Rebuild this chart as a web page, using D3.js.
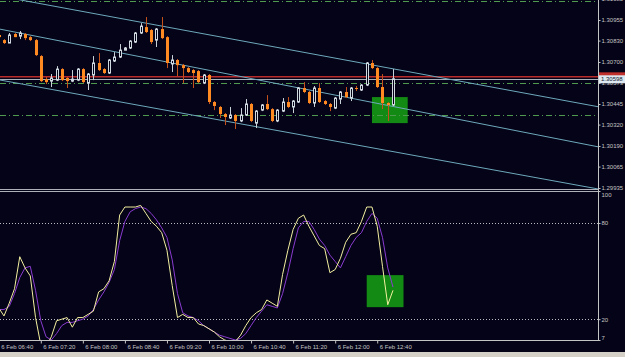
<!DOCTYPE html>
<html>
<head>
<meta charset="utf-8">
<script src="https://cdn.jsdelivr.net/npm/d3@7"></script>
<style>
body { margin: 0; background: #040318; }
text { font-family: "Liberation Sans", Arial, sans-serif; }
</style>
</head>
<body>
<div id="chart"></div>
<script>
var width = 625
var height = 357
var plotRight = 598
var mainBottom = 189
var oscTop = 191.5
var oscBottom = 340

// Bars (M5, 6 Feb)

var day = "2013-02-06 "
var times = ["06:40","06:45","06:50","06:55","07:00","07:05","07:10","07:15","07:20","07:25",
    "07:30","07:35","07:40","07:45","07:50","07:55","08:00","08:05","08:10","08:15",
    "08:20","08:25","08:30","08:35","08:40","08:45","08:50","08:55","09:00","09:05",
    "09:10","09:15","09:20","09:25","09:30","09:35","09:40","09:45","09:50","09:55",
    "10:00","10:05","10:10","10:15","10:20","10:25","10:30","10:35","10:40","10:45",
    "10:50","10:55","11:00","11:05","11:10","11:15","11:20","11:25","11:30","11:35",
    "11:40","11:45","11:50","11:55","12:00","12:05","12:10","12:15","12:20","12:25",
    "12:30","12:35","12:40","12:45","12:50","12:55"]

var open = [1.30864,1.30833,1.30815,1.30870,1.30857,1.30870,1.30851,1.30833,1.30736,1.30596,
    1.30584,1.30590,1.30657,1.30603,1.30584,1.30590,1.30657,1.30572,1.30621,1.30694,
    1.30657,1.30633,1.30706,1.30730,1.30772,1.30785,1.30821,1.30876,1.30912,1.30894,
    1.30833,1.30900,1.30851,1.30688,1.30712,1.30681,1.30663,1.30651,1.30645,1.30572,
    1.30621,1.30457,1.30427,1.30384,1.30360,1.30378,1.30342,1.30378,1.30445,1.30329,
    1.30408,1.30445,1.30414,1.30342,1.30402,1.30457,1.30427,1.30457,1.30542,1.30518,
    1.30451,1.30542,1.30463,1.30445,1.30420,1.30475,1.30518,1.30481,1.30542,1.30530,
    1.30560,1.30694,1.30663,1.30548,1.30451,1.30439]

var high = [1.30870,1.30839,1.30876,1.30876,1.30888,1.30876,1.30857,1.30839,1.30742,1.30609,
    1.30627,1.30675,1.30663,1.30609,1.30651,1.30663,1.30663,1.30633,1.30736,1.30754,
    1.30663,1.30718,1.30760,1.30809,1.30791,1.30833,1.30882,1.30936,1.30973,1.30900,
    1.30906,1.30973,1.30857,1.30742,1.30718,1.30688,1.30669,1.30657,1.30651,1.30627,
    1.30627,1.30463,1.30433,1.30390,1.30427,1.30384,1.30420,1.30475,1.30451,1.30408,
    1.30445,1.30499,1.30420,1.30414,1.30481,1.30487,1.30469,1.30548,1.30578,1.30524,
    1.30554,1.30572,1.30469,1.30451,1.30487,1.30524,1.30548,1.30548,1.30554,1.30566,
    1.30700,1.30712,1.30669,1.30627,1.30457,1.30657]

var low = [1.30845,1.30809,1.30815,1.30851,1.30839,1.30833,1.30827,1.30736,1.30578,1.30566,
    1.30548,1.30584,1.30584,1.30542,1.30578,1.30584,1.30572,1.30530,1.30590,1.30645,
    1.30627,1.30627,1.30700,1.30724,1.30772,1.30779,1.30815,1.30870,1.30876,1.30809,
    1.30791,1.30839,1.30663,1.30639,1.30615,1.30572,1.30633,1.30542,1.30572,1.30566,
    1.30445,1.30408,1.30360,1.30317,1.30354,1.30293,1.30335,1.30372,1.30335,1.30299,
    1.30402,1.30408,1.30335,1.30335,1.30396,1.30420,1.30390,1.30451,1.30511,1.30445,
    1.30427,1.30451,1.30439,1.30402,1.30414,1.30445,1.30481,1.30463,1.30524,1.30524,
    1.30554,1.30657,1.30542,1.30414,1.30342,1.30433]

var close = [1.30851,1.30815,1.30864,1.30851,1.30876,1.30845,1.30833,1.30742,1.30584,1.30578,
    1.30603,1.30657,1.30590,1.30584,1.30596,1.30657,1.30578,1.30627,1.30694,1.30651,
    1.30633,1.30712,1.30730,1.30772,1.30785,1.30827,1.30876,1.30918,1.30882,1.30821,
    1.30900,1.30845,1.30694,1.30712,1.30681,1.30663,1.30639,1.30633,1.30578,1.30621,
    1.30457,1.30433,1.30384,1.30366,1.30378,1.30342,1.30378,1.30445,1.30342,1.30402,
    1.30439,1.30414,1.30342,1.30408,1.30457,1.30427,1.30463,1.30542,1.30518,1.30451,
    1.30542,1.30457,1.30445,1.30427,1.30481,1.30518,1.30487,1.30542,1.30536,1.30560,
    1.30694,1.30663,1.30548,1.30451,1.30439,1.30598]

// Stochastic main and signal

var stochMain = [27,22,30,39,59,52,47,21,4,3,
    9,19,20,21,15,21,21,23,25,37,
    39,44,56,85,90,90,90,91,86,81,
    78,74,63,41,21,23,21,21,17,16,
    14,12,9,7,6,6,10,16,21,24,
    26,32,30,28,48,63,76,83,85,78,
    72,66,64,49,51,58,68,73,74,81,
    90,90,78,53,29,38]

var stochSignal = [26,26,28,36,46,52,53,38,19,9,
    7,11,16,18,18,19,20,22,26,32,
    37,43,51,69,81,87,89,90,89,86,
    82,77,71,57,36,24,22,21,19,16,
    14,12,10,9,8,7,8,11,16,21,
    25,29,28,27,36,49,64,77,81,81,
    76,70,66,60,56,52,59,66,71,74,
    81,86,83,71,52,40]

// Axis ticks

var priceTicks = [1.31085, 1.30955, 1.30830, 1.30700, 1.30573, 1.30445, 1.30320, 1.30190, 1.30065, 1.29935]
var oscTicks = [100, 80, 20, 7]
var oscLevels = [80, 20]
var timeTicks = ["06:40","07:20","08:00","08:40","09:20","10:00","10:40","11:20","12:00","12:40"]

// Objects on the chart

var levels = [1.31073, 1.30573, 1.30378]
var askPrice = 1.30610
var bidPrice = 1.30598
var channelTimes = ["06:40", "16:30"]
var channels = [[1.31101, 1.30405], [1.30901, 1.30160], [1.30592, 1.29906]]
var boxMain = {from: "12:35", to: "13:09", top: 1.30487, bottom: 1.30329}
var boxOsc = {from: "12:30", to: "13:05", top: 47.5, bottom: 27.5}

// Scale creation

var parseTime = d3.timeParse("%Y-%m-%d %H:%M")
var t = function(s) { return parseTime(day + s) }

var x_scale = d3.scaleTime()
    .domain([t("06:40"), t("12:55")])
    .range([-1.26, 393])

var y_price = d3.scaleLinear()
    .domain([1.29935, 1.30955])
    .range([188, 20])

var y_osc = d3.scaleLinear()
    .domain([7, 100])
    .range([oscBottom, 191])

var bg = "#040318"
var axisColor = "#c4c4c4"

// Chart background

var svg = d3.select("#chart")
    .append("svg")
    .attr("width", width)
    .attr("height", height)
    .style("display", "block")

svg.append("rect")
    .attr("width", width)
    .attr("height", height)
    .attr("fill", bg)

var defs = svg.append("defs")
defs.append("clipPath").attr("id", "clipMain")
    .append("rect").attr("x", 0).attr("y", 0).attr("width", plotRight).attr("height", mainBottom)
defs.append("clipPath").attr("id", "clipOsc")
    .append("rect").attr("x", 0).attr("y", oscTop).attr("width", plotRight).attr("height", oscBottom - oscTop)

var main = svg.append("g").attr("clip-path", "url(#clipMain)")
var osc = svg.append("g").attr("clip-path", "url(#clipOsc)")

// Rectangles (behind everything)

main.append("rect")
    .attr("x", x_scale(t(boxMain.from)))
    .attr("y", y_price(boxMain.top))
    .attr("width", x_scale(t(boxMain.to)) - x_scale(t(boxMain.from)))
    .attr("height", y_price(boxMain.bottom) - y_price(boxMain.top))
    .attr("fill", "#138a13")

osc.append("rect")
    .attr("x", x_scale(t(boxOsc.from)))
    .attr("y", y_osc(boxOsc.top))
    .attr("width", x_scale(t(boxOsc.to)) - x_scale(t(boxOsc.from)))
    .attr("height", y_osc(boxOsc.bottom) - y_osc(boxOsc.top))
    .attr("fill", "#138a13")

// Horizontal levels

main.selectAll(".level")
    .data(levels)
    .enter()
    .append("line")
    .attr("class", "level")
    .attr("x1", 0)
    .attr("x2", plotRight)
    .attr("y1", function(d) { return Math.round(y_price(d)) + 0.5 })
    .attr("y2", function(d) { return Math.round(y_price(d)) + 0.5 })
    .attr("stroke", "#4f9a4f")
    .attr("stroke-dasharray", "6,3,1,3")

main.append("line")
    .attr("x1", 0).attr("x2", plotRight)
    .attr("y1", y_price(askPrice)).attr("y2", y_price(askPrice))
    .attr("stroke", "#b82c2c")
    .attr("stroke-width", 1.6)

main.append("line")
    .attr("x1", 0).attr("x2", plotRight)
    .attr("y1", Math.round(y_price(bidPrice)) + 0.5).attr("y2", Math.round(y_price(bidPrice)) + 0.5)
    .attr("stroke", "#a8b0bc")

// Channel lines

main.selectAll(".channel")
    .data(channels)
    .enter()
    .append("line")
    .attr("class", "channel")
    .attr("x1", x_scale(t(channelTimes[0])))
    .attr("x2", x_scale(t(channelTimes[1])))
    .attr("y1", function(d) { return y_price(d[0]) })
    .attr("y2", function(d) { return y_price(d[1]) })
    .attr("stroke", "#6ea9bb")
    .attr("stroke-width", 1)

// Candles

var bars = times.map(function(s, i) {
    return {time: t(s), o: open[i], h: high[i], l: low[i], c: close[i]}
})

var candle = main.selectAll(".candle")
    .data(bars)
    .enter()
    .append("g")
    .attr("class", "candle")

candle.append("line")
    .attr("x1", function(d) { return Math.round(x_scale(d.time)) + 0.5 })
    .attr("x2", function(d) { return Math.round(x_scale(d.time)) + 0.5 })
    .attr("y1", function(d) { return y_price(d.h) })
    .attr("y2", function(d) { return y_price(d.l) })
    .attr("stroke", function(d) { return d.c >= d.o ? "#c8d0d8" : "#c4501c" })

candle.append("rect")
    .attr("x", function(d) {
        var cx = Math.round(x_scale(d.time)) + 0.5
        return d.c >= d.o ? cx - 1 : cx - 1.5
    })
    .attr("y", function(d) { return y_price(Math.max(d.o, d.c)) })
    .attr("width", function(d) { return d.c >= d.o ? 2 : 3 })
    .attr("height", function(d) { return Math.max(1, Math.abs(y_price(d.o) - y_price(d.c))) })
    .attr("fill", function(d) { return d.c >= d.o ? bg : "#ff8a22" })
    .attr("stroke", function(d) { return d.c >= d.o ? "#d0d8e0" : "none" })

// Stochastic

osc.selectAll(".osclevel")
    .data(oscLevels)
    .enter()
    .append("line")
    .attr("x1", 0).attr("x2", plotRight)
    .attr("y1", function(d) { return Math.round(y_osc(d)) + 0.5 })
    .attr("y2", function(d) { return Math.round(y_osc(d)) + 0.5 })
    .attr("stroke", "#b8b8c0")
    .attr("stroke-dasharray", "1,2")

var stochLine = d3.line()
    .x(function(d, i) { return x_scale(t(times[i])) })
    .y(function(d) { return y_osc(d) })

osc.append("path")
    .datum(stochSignal)
    .attr("d", stochLine)
    .attr("fill", "none")
    .attr("stroke", "#8a3ccf")
    .attr("stroke-width", 1)

osc.append("path")
    .datum(stochMain)
    .attr("d", stochLine)
    .attr("fill", "none")
    .attr("stroke", "#f4f0a0")
    .attr("stroke-width", 1)

// Frames

svg.append("line")
    .attr("x1", 0).attr("x2", plotRight).attr("y1", mainBottom + 0.5).attr("y2", mainBottom + 0.5)
    .attr("stroke", "#aeb2b8")
svg.append("line")
    .attr("x1", 0).attr("x2", plotRight).attr("y1", oscTop).attr("y2", oscTop)
    .attr("stroke", "#aeb2b8")
svg.append("line")
    .attr("x1", 0).attr("x2", plotRight).attr("y1", oscBottom + 0.5).attr("y2", oscBottom + 0.5)
    .attr("stroke", axisColor)
svg.append("line")
    .attr("x1", plotRight + 0.5).attr("x2", plotRight + 0.5).attr("y1", 0).attr("y2", oscBottom + 1)
    .attr("stroke", axisColor)

// Adding axes

var priceAxis = d3.axisRight(y_price)
    .tickValues(priceTicks)
    .tickSize(2)
    .tickFormat(d3.format(".5f"))

var pa = svg.append("g")
    .attr("transform", "translate(" + (plotRight + 0.5) + ",0)")
    .call(priceAxis)

var oscAxis = d3.axisRight(y_osc)
    .tickValues(oscTicks)
    .tickSize(2)

var oa = svg.append("g")
    .attr("transform", "translate(" + (plotRight + 0.5) + ",0)")
    .call(oscAxis)

oa.selectAll(".tick text")
    .attr("dy", function(d) { return d == 100 ? "0.95em" : (d == 7 ? "-0.1em" : "0.32em") })

var timeAxis = d3.axisBottom(x_scale)
    .tickValues(timeTicks.map(t))
    .tickSize(3)
    .tickFormat(d3.timeFormat("%-d %b %H:%M"))

var ta = svg.append("g")
    .attr("transform", "translate(0," + (oscBottom + 0.5) + ")")
    .call(timeAxis)

ta.selectAll(".tick text")
    .attr("text-anchor", "start")
    .attr("x", 2)
    .attr("y", 4)

svg.selectAll(".domain").remove()
svg.selectAll(".tick line").attr("stroke", axisColor)
svg.selectAll(".tick text")
    .attr("fill", axisColor)
    .style("font-size", "6px")
    .style("font-family", "'Liberation Sans', Arial, sans-serif")
pa.selectAll(".tick text").attr("x", 3)
oa.selectAll(".tick text").attr("x", 3)

// Price labels for ask and bid

svg.append("rect")
    .attr("x", plotRight + 1).attr("y", y_price(askPrice) - 4.5)
    .attr("width", width - plotRight).attr("height", 4.5)
    .attr("fill", "#c0302c")

svg.append("rect")
    .attr("x", plotRight + 1).attr("y", y_price(bidPrice) - 3.5)
    .attr("width", width - plotRight).attr("height", 8)
    .attr("fill", "#dde8f0")

svg.append("text")
    .attr("x", plotRight + 3)
    .attr("y", y_price(bidPrice) + 0.5)
    .attr("dy", "0.35em")
    .attr("fill", "#101830")
    .style("font-size", "6px")
    .text(d3.format(".5f")(bidPrice))

// Window strip at the bottom

svg.append("rect")
    .attr("x", 0).attr("y", 352)
    .attr("width", width).attr("height", height - 352)
    .attr("fill", "#d4d0c8")
</script>
</body>
</html>
